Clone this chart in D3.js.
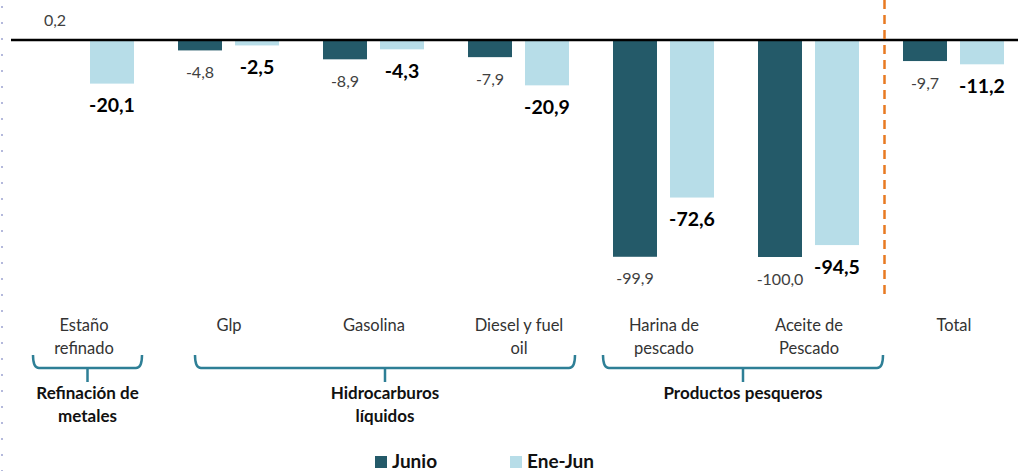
<!DOCTYPE html>
<html><head><meta charset="utf-8">
<script src="https://cdn.jsdelivr.net/npm/d3@7"></script>
<style>body{margin:0;background:#fff}svg{display:block}</style>
</head><body>
<script>
const categories = ["Estaño refinado","Glp","Gasolina","Diesel y fuel oil","Harina de pescado","Aceite de Pescado","Total"];
const categoryLines = [["Estaño","refinado"],["Glp"],["Gasolina"],["Diesel y fuel","oil"],["Harina de","pescado"],["Aceite de","Pescado"],["Total"]];
const junio = [0.2,-4.8,-8.9,-7.9,-99.9,-100.0,-9.7];
const eneJun = [-20.1,-2.5,-4.3,-20.9,-72.6,-94.5,-11.2];
const groups = [
  {lines:["Refinación de","metales"], first:"Estaño refinado", last:"Estaño refinado"},
  {lines:["Hidrocarburos","líquidos"], first:"Glp", last:"Diesel y fuel oil"},
  {lines:["Productos pesqueros"], first:"Harina de pescado", last:"Aceite de Pescado"}
];
const seriesNames = ["Junio","Ene-Jun"];

const W=1018,H=471;
const svg=d3.select("body").append("svg").attr("width",W).attr("height",H);
const font="Lato, 'Open Sans', sans-serif";
const dark="#245a69", light="#b7dde8";

const x=d3.scaleBand().domain(categories).range([11.5,1026.5]);
const y=d3.scaleLinear().domain([-100,0]).range([257,40]);
const fmt=v=>d3.format(".1f")(v).replace(".",",").replace("−","-");

// left dotted axis
svg.append("line").attr("x1",2).attr("x2",2).attr("y1",6).attr("y2",H)
  .attr("stroke","#b4b9dc").attr("stroke-width",2).attr("stroke-dasharray","2,14");

const bw=44;
const cx=c=>x(c)+x.bandwidth()/2;
const series=[{vals:junio,color:dark,off:-51},{vals:eneJun,color:light,off:6}];
series.forEach((s,si)=>{
  svg.append("g").selectAll("rect").data(categories).join("rect")
    .attr("x",c=>cx(c)+s.off).attr("width",bw)
    .attr("y",(c,i)=>y(Math.max(0,s.vals[i])))
    .attr("height",(c,i)=>Math.abs(y(s.vals[i])-y(0)))
    .attr("fill",s.color);
  svg.append("g").selectAll("text").data(categories).join("text")
    .attr("x",c=>cx(c)+s.off+bw/2)
    .attr("y",(c,i)=>s.vals[i]>=0 ? y(s.vals[i])-19 : y(s.vals[i])+22)
    .attr("dy","0.35em").attr("text-anchor","middle")
    .attr("font-family",font)
    .attr("font-size",si===0?16:19.5)
    .attr("font-weight",si===0?"normal":"bold")
    .attr("fill",si===0?"#404040":"#000")
    .text((c,i)=>fmt(s.vals[i]));
});

// baseline
svg.append("line").attr("x1",11).attr("x2",W).attr("y1",y(0)).attr("y2",y(0))
  .attr("stroke","#000").attr("stroke-width",2.5);

// dashed separator
const sepX=x("Total")+3;
svg.append("line").attr("x1",sepX).attr("x2",sepX).attr("y1",0).attr("y2",296)
  .attr("stroke","#e87a22").attr("stroke-width",2.5).attr("stroke-dasharray","9,6");

// category labels
categories.forEach((c,i)=>{
  const t=svg.append("text").attr("x",cx(c)).attr("y",327).attr("text-anchor","middle")
    .attr("font-family",font).attr("font-size",16.5).attr("fill","#333");
  categoryLines[i].forEach((l,j)=>t.append("tspan").attr("x",cx(c)).attr("dy",j?23:0).attr("dominant-baseline","middle").text(l));
});

// brackets
const insets=[[21.5,-14.5],[38.5,-16.5],[11.5,1.5]];
groups.forEach((g,gi)=>{
  const x0=x(g.first)+insets[gi][0], x1=x(g.last)+x.bandwidth()+insets[gi][1];
  const m=(x0+x1)/2;
  const top=355, hy=368, bot=382;
  svg.append("path").attr("d",`M${x0},${top} Q${x0},${hy} ${x0+6},${hy} L${x1-6},${hy} Q${x1},${hy} ${x1},${top} M${m},${hy} L${m},${bot}`)
    .attr("fill","none").attr("stroke","#2e7f96").attr("stroke-width",2.5);
  const t=svg.append("text").attr("text-anchor","middle").attr("font-family",font)
    .attr("font-size",17).attr("font-weight","bold").attr("fill","#111");
  g.lines.forEach((l,j)=>t.append("tspan").attr("x",m).attr("y",395+j*23).attr("dominant-baseline","middle").text(l));
});

// legend
const leg=[{name:seriesNames[0],color:dark,x:375},{name:seriesNames[1],color:light,x:510}];
leg.forEach(l=>{
  svg.append("rect").attr("x",l.x).attr("y",456).attr("width",12).attr("height",12).attr("fill",l.color);
  svg.append("text").attr("x",l.x+17).attr("y",463).attr("dominant-baseline","middle")
    .attr("font-family",font).attr("font-size",19).attr("font-weight","bold").attr("fill","#111").text(l.name);
});
</script>
</body></html>
